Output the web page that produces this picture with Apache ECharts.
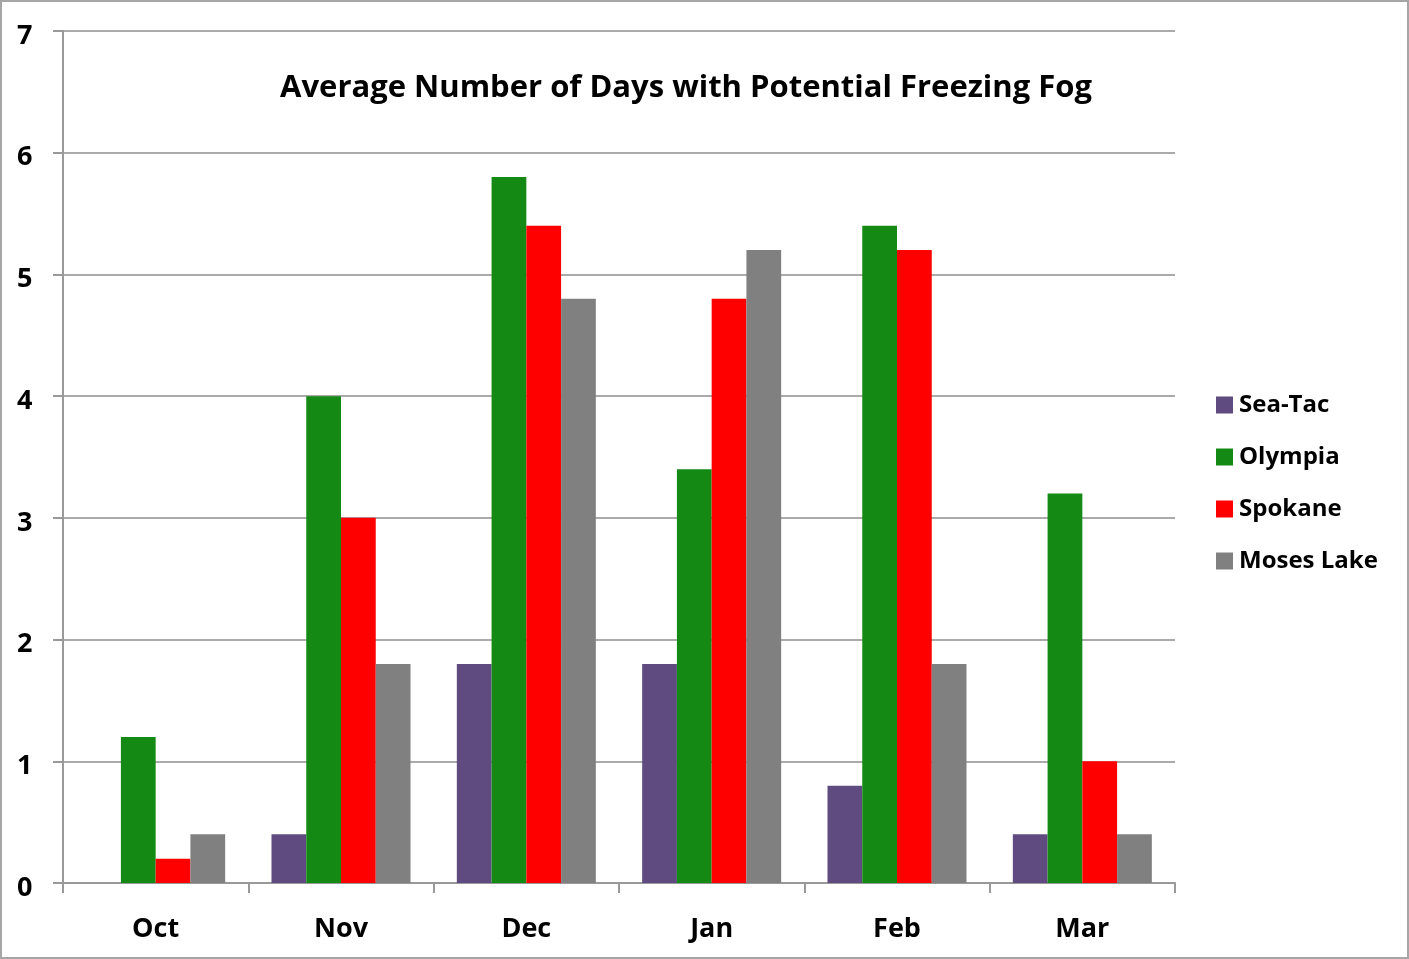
<!DOCTYPE html>
<html>
<head>
<meta charset="utf-8">
<script src="https://cdn.jsdelivr.net/npm/echarts@6/dist/echarts.min.js"></script>
<style>
html,body{margin:0;padding:0;background:#fff;}
#wrap{position:absolute;left:0;top:0;width:1405px;height:955px;border:2px solid #a6a6a6;}
#chart{width:1405px;height:955px;}
</style>
</head>
<body>
<div id="wrap"><div id="chart"></div></div>
<script>
const categories = ['Oct', 'Nov', 'Dec', 'Jan', 'Feb', 'Mar'];
const seaTac = [0, 0.4, 1.8, 1.8, 0.8, 0.4];
const olympia = [1.2, 4.0, 5.8, 3.4, 5.4, 3.2];
const spokane = [0.2, 3.0, 5.4, 4.8, 5.2, 1.0];
const mosesLake = [0.4, 1.8, 4.8, 5.2, 1.8, 0.4];
const yTicks = [0, 1, 2, 3, 4, 5, 6, 7];

const FONT = '"Open Sans"';
const chart = echarts.init(document.getElementById('chart'));
const mk = (name, data, color) => ({
  name, type: 'bar', data, barGap: '0%', barCategoryGap: '25%',
  itemStyle: { color }
});
chart.setOption({
  animation: false,
  title: {
    text: 'Average Number of Days with Potential Freezing Fog',
    left: 679, top: 66, textAlign: 'center',
    textStyle: { fontFamily: FONT, fontWeight: 'bold', fontSize: 31, color: '#000' }
  },
  legend: {
    orient: 'vertical', left: 1209, top: 386,
    itemWidth: 17, itemHeight: 17, itemGap: 28,
    icon: 'rect',
    textStyle: { fontFamily: FONT, fontWeight: 'bold', fontSize: 24, color: '#000', padding: [0, 0, 0, 1] },
    data: ['Sea-Tac', 'Olympia', 'Spokane', 'Moses Lake']
  },
  grid: { left: 61, right: 232, top: 29, bottom: 74, containLabel: false },
  xAxis: {
    type: 'category', data: categories,
    axisLine: { lineStyle: { color: '#999', width: 2 } },
    axisTick: { show: true, length: 10, lineStyle: { color: '#999', width: 2 } },
    axisLabel: { margin: 33, fontFamily: FONT, fontWeight: 'bold', fontSize: 27, color: '#000' }
  },
  yAxis: {
    type: 'value', min: yTicks[0], max: yTicks[yTicks.length - 1], interval: 1,
    axisLine: { show: true, lineStyle: { color: '#999', width: 2 } },
    axisTick: { show: true, length: 10, lineStyle: { color: '#999', width: 2 } },
    splitLine: { lineStyle: { color: '#aaa', width: 2 } },
    axisLabel: {
      margin: 46, align: 'left',
      formatter: v => '{n|' + v + '}',
      rich: { n: { padding: [10, 0, 0, 0], fontFamily: FONT, fontWeight: 'bold', fontSize: 27, color: '#000' } }
    }
  },
  series: [
    mk('Sea-Tac', seaTac, '#5f4b7f'),
    mk('Olympia', olympia, '#148a14'),
    mk('Spokane', spokane, '#ff0000'),
    mk('Moses Lake', mosesLake, '#808080')
  ]
});
</script>
</body>
</html>
